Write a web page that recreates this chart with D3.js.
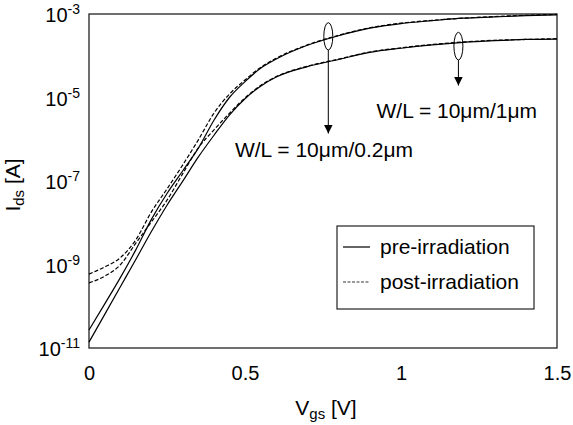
<!DOCTYPE html>
<html>
<head>
<meta charset="utf-8">
<script src="https://cdn.jsdelivr.net/npm/d3@7"></script>
<style>
  body { margin: 0; background: #fff; }
  text { font-family: "Liberation Sans", Arial, sans-serif; fill: #000; }
</style>
</head>
<body>
<div id="chart"></div>
<script>
// gate voltage grid (V)
var vgs = [0, 0.05, 0.1, 0.15, 0.2, 0.25, 0.3, 0.35, 0.4, 0.45, 0.5, 0.55, 0.6,
           0.7, 0.8, 0.9, 1.0, 1.1, 1.2, 1.3, 1.4, 1.5];

// log10(Ids [A])
var pre02  = [-10.57, -9.95, -9.32, -8.65, -7.92, -7.30, -6.76, -6.22, -5.55, -5.00, -4.62, -4.30, -4.08,
              -3.75, -3.52, -3.34, -3.23, -3.16, -3.10, -3.07, -3.04, -3.02];
var post02 = [-9.23, -9.06, -8.84, -8.41, -7.74, -7.19, -6.62, -6.02, -5.38, -4.92, -4.58, -4.28, -4.06,
              -3.74, -3.51, -3.33, -3.22, -3.15, -3.10, -3.06, -3.03, -3.01];
var pre1   = [-10.86, -10.20, -9.54, -8.88, -8.21, -7.58, -7.01, -6.43, -5.91, -5.42, -5.03, -4.73, -4.51,
              -4.26, -4.09, -3.92, -3.82, -3.74, -3.68, -3.64, -3.61, -3.60];
var post1  = [-9.44, -9.28, -9.01, -8.49, -7.98, -7.46, -6.83, -6.21, -5.78, -5.38, -5.01, -4.71, -4.50,
              -4.25, -4.08, -3.91, -3.81, -3.73, -3.67, -3.63, -3.61, -3.59];

var xTicks = [0, 0.5, 1, 1.5];
var yExponents = [-3, -5, -7, -9, -11];

var svgWidth = 573;
var svgHeight = 425;
var margin = { top: 14, right: 16, bottom: 77, left: 89 };
var chartWidth = svgWidth - margin.left - margin.right;
var chartHeight = svgHeight - margin.top - margin.bottom;

var svg = d3.select("#chart")
  .append("svg")
  .attr("width", svgWidth)
  .attr("height", svgHeight);

var chartGroup = svg.append("g")
  .attr("transform", `translate(${margin.left}, ${margin.top})`);

var xScale = d3.scaleLinear().domain([0, 1.5]).range([0, chartWidth]);
var yScale = d3.scaleLog().domain([1e-11, 1e-3]).range([chartHeight, 0]);

// axes (labels only, no tick marks)
var bottomAxis = d3.axisBottom(xScale).tickValues(xTicks).tickSize(0)
  .tickFormat(d3.format("~g"));
var leftAxis = d3.axisLeft(yScale).tickValues(yExponents.map(e => Math.pow(10, e)))
  .tickSize(0).tickPadding(9).tickFormat("");

var xAxisG = chartGroup.append("g")
  .attr("transform", `translate(0, ${chartHeight})`)
  .call(bottomAxis);
xAxisG.select(".domain").remove();
xAxisG.selectAll("text")
  .attr("y", 32).attr("dy", 0)
  .attr("font-size", 20).attr("fill", "#000")
  .style("font-family", "Liberation Sans, Arial, sans-serif");

var yAxisG = chartGroup.append("g").call(leftAxis);
yAxisG.select(".domain").remove();
yAxisG.selectAll(".tick text").each(function(d) {
  var t = d3.select(this)
    .attr("font-size", 20)
    .attr("fill", "#000")
    .attr("dy", "0.38em")
    .style("font-family", "Liberation Sans, Arial, sans-serif");
  t.append("tspan").text("10");
  t.append("tspan").attr("font-size", 14).attr("dy", -8).text(Math.round(Math.log10(d)));
});

// frame
chartGroup.append("rect")
  .attr("width", chartWidth)
  .attr("height", chartHeight)
  .attr("fill", "none")
  .attr("stroke", "#222")
  .attr("stroke-width", 1.3);

// curves
var line = d3.line()
  .x((d, i) => xScale(vgs[i]))
  .y(d => yScale(Math.pow(10, d)))
  .curve(d3.curveMonotoneX);

var series = [
  { values: pre02, dash: null },
  { values: pre1, dash: null },
  { values: post02, dash: "4,2" },
  { values: post1, dash: "4,2" }
];

chartGroup.selectAll(".curve")
  .data(series)
  .enter()
  .append("path")
  .attr("class", "curve")
  .attr("d", d => line(d.values))
  .attr("fill", "none")
  .attr("stroke", "#000")
  .attr("stroke-width", 1.2)
  .attr("stroke-dasharray", d => d.dash);

// annotations: ellipses + arrows
var defs = svg.append("defs");
defs.append("marker")
  .attr("id", "arrow")
  .attr("viewBox", "0 0 10 10")
  .attr("refX", 10).attr("refY", 5)
  .attr("markerWidth", 9).attr("markerHeight", 9)
  .attr("markerUnits", "userSpaceOnUse")
  .attr("orient", "auto")
  .append("path")
  .attr("d", "M0,0 L10,5 L0,10 Z")
  .attr("fill", "#000");

var notes = [
  { v: 0.767, top: 22.7, bottom: 50, tip: 133.5 },
  { v: 1.184, top: 32.3, bottom: 60, tip: 85.5 }
];

notes.forEach(function(n) {
  var cx = xScale(n.v) + margin.left;
  svg.append("ellipse")
    .attr("cx", cx)
    .attr("cy", (n.top + n.bottom) / 2)
    .attr("rx", 4.5)
    .attr("ry", (n.bottom - n.top) / 2)
    .attr("fill", "none")
    .attr("stroke", "#000")
    .attr("stroke-width", 1);
  svg.append("line")
    .attr("x1", cx).attr("x2", cx)
    .attr("y1", n.bottom).attr("y2", n.tip)
    .attr("stroke", "#000")
    .attr("stroke-width", 1)
    .attr("marker-end", "url(#arrow)");
});

svg.append("text")
  .attr("x", 376.5).attr("y", 118)
  .attr("font-size", 21)
  .text("W/L = 10μm/1μm");

svg.append("text")
  .attr("x", 413).attr("y", 157)
  .attr("text-anchor", "end")
  .attr("font-size", 21)
  .text("W/L = 10μm/0.2μm");

// legend
var legend = svg.append("g");
legend.append("rect")
  .attr("x", 337).attr("y", 226)
  .attr("width", 197).attr("height", 83)
  .attr("fill", "#fff")
  .attr("stroke", "#222")
  .attr("stroke-width", 1.2);

var legendItems = [
  { label: "pre-irradiation", dash: null, y: 247 },
  { label: "post-irradiation", dash: "3,1.5", y: 282 }
];
legendItems.forEach(function(item) {
  legend.append("line")
    .attr("x1", 343).attr("x2", 370)
    .attr("y1", item.y).attr("y2", item.y)
    .attr("stroke", "#000")
    .attr("stroke-width", item.dash ? 0.8 : 1.2)
    .attr("stroke-dasharray", item.dash);
  legend.append("text")
    .attr("x", 380).attr("y", item.y + 7)
    .attr("font-size", 21)
    .text(item.label);
});

// axis titles
var xTitle = svg.append("text")
  .attr("x", 326).attr("y", 415)
  .attr("text-anchor", "middle")
  .attr("font-size", 21);
xTitle.append("tspan").text("V");
xTitle.append("tspan").attr("font-size", 15).attr("dy", 4).text("gs");
xTitle.append("tspan").attr("dy", -4).text(" [V]");

var yTitle = svg.append("text")
  .attr("transform", "translate(20, 185) rotate(-90)")
  .attr("text-anchor", "middle")
  .attr("font-size", 21);
yTitle.append("tspan").text("I");
yTitle.append("tspan").attr("font-size", 15).attr("dy", 4).text("ds");
yTitle.append("tspan").attr("dy", -4).text(" [A]");
</script>
</body>
</html>
